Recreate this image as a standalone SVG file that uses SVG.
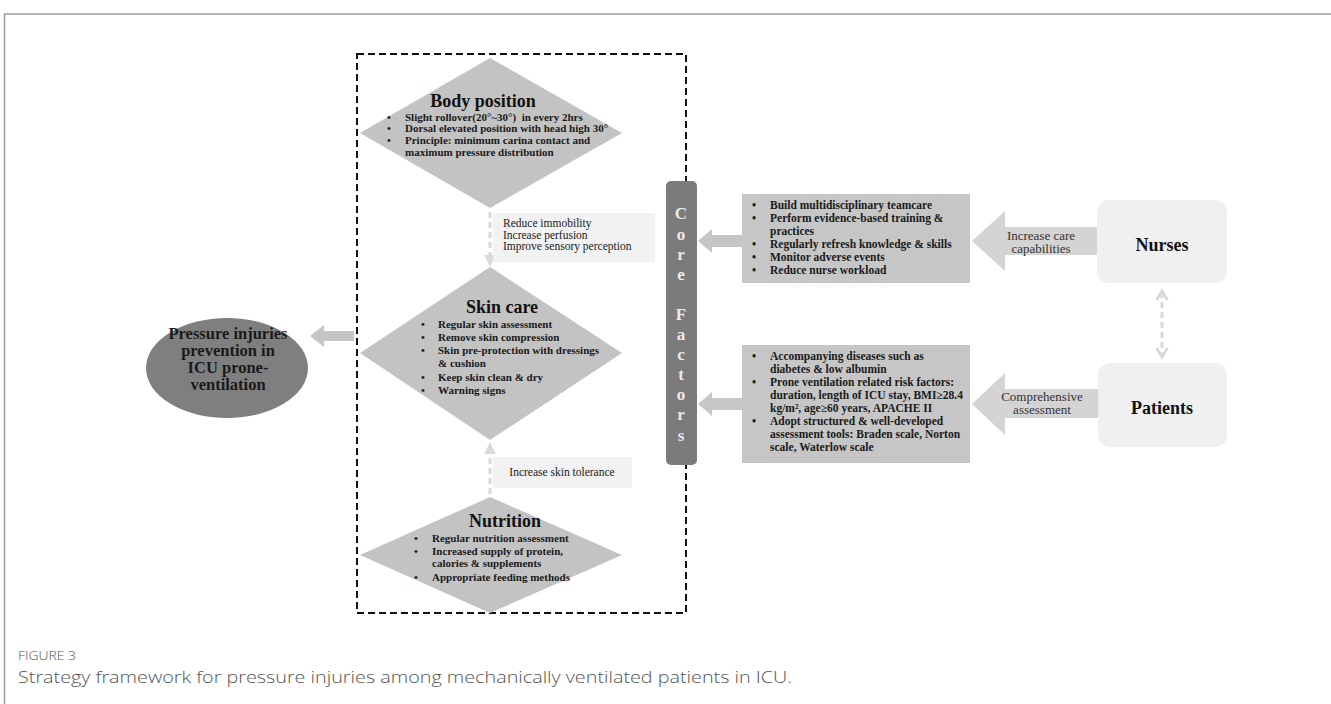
<svg xmlns="http://www.w3.org/2000/svg" width="1331" height="704" viewBox="0 0 1331 704">
<defs>
<style>
.frame{stroke:#9a9a9a;stroke-width:1.5;fill:none}
.dbox{fill:none;stroke:#111;stroke-width:2;stroke-dasharray:7 4}
.dia{fill:#c3c3c3}
.ttl{font-family:"Liberation Serif","Times New Roman",serif;font-weight:bold;font-size:18px;fill:#111;text-anchor:middle}
.bl{font-family:"Liberation Serif","Times New Roman",serif;font-weight:bold;font-size:11px;fill:#1a1a1a}
.bf{font-family:"Liberation Serif","Times New Roman",serif;font-weight:bold;font-size:11.5px;fill:#1a1a1a}
.lbl{font-family:"Liberation Serif","Times New Roman",serif;font-size:11.5px;fill:#1a1a1a}
.lbox{fill:#f2f2f2}
.fbox{fill:#c6c6c6}
.hbox{fill:#f0f0f0}
.htxt{font-family:"Liberation Serif","Times New Roman",serif;font-weight:bold;font-size:18px;fill:#111;text-anchor:middle}
.cf{font-family:"Liberation Serif","Times New Roman",serif;font-weight:bold;font-size:17px;fill:#ececec;text-anchor:middle}
.big{fill:#d4d4d4}
.sm{fill:#c6c6c6}
.dash{stroke:#d9d9d9;stroke-width:3;stroke-dasharray:6 4;fill:none}
.atxt{font-family:"Liberation Serif","Times New Roman",serif;font-size:13px;fill:#333;text-anchor:middle}
.eltxt{font-family:"Liberation Serif","Times New Roman",serif;font-weight:bold;font-size:16.5px;fill:#1a1a1a;text-anchor:middle}
.cap1{font-family:"Open Sans","Liberation Sans",sans-serif;font-weight:300;font-size:13px;fill:#555}
.cap2{font-family:"Open Sans","Liberation Sans",sans-serif;font-weight:300;font-size:16px;fill:#555}
</style>
<marker id="tri" viewBox="0 0 10 10" refX="6" refY="5" markerWidth="4" markerHeight="4" orient="auto-start-reverse">
<path d="M0,0 L10,5 L0,10 z" fill="#d9d9d9"/>
</marker>
<marker id="chev" viewBox="0 0 10 10" refX="7" refY="5" markerWidth="4.5" markerHeight="4.5" orient="auto-start-reverse">
<path d="M1,1 L8,5 L1,9" fill="none" stroke="#d9d9d9" stroke-width="2"/>
</marker>
</defs>
<rect width="1331" height="704" fill="#ffffff"/>
<g id="frame">
<line class="frame" x1="4" y1="14" x2="1331" y2="14"/>
<line class="frame" x1="4.5" y1="14" x2="4.5" y2="704"/>
</g>
<rect id="strategy-box" class="dbox" x="357" y="54" width="329" height="559"/>
<g id="connectors">
<polygon class="sm" points="310,336 324,325 324,331 354,331 354,341 324,341 324,347"/>
<polygon class="sm" points="698,241 712,229 712,235 742,235 742,247 712,247 712,253"/>
<polygon class="sm" points="698,404 712,392 712,398 742,398 742,410 712,410 712,416"/>
<polygon class="big" points="972,241 1005,211 1005,227 1097,227 1097,255 1005,255 1005,271"/>
<polygon class="big" points="972,404 1005,373 1005,389 1098,389 1098,418 1005,418 1005,435"/>
<line class="dash" x1="490" y1="212" x2="490" y2="262" marker-end="url(#tri)"/>
<line class="dash" x1="490" y1="494" x2="490" y2="447" marker-end="url(#tri)"/>
<line class="dash" x1="1162" y1="292" x2="1162" y2="356" marker-start="url(#chev)" marker-end="url(#chev)"/>
<text class="atxt" x="1041" y="240">Increase care</text>
<text class="atxt" x="1041" y="253">capabilities</text>
<text class="atxt" x="1042" y="401">Comprehensive</text>
<text class="atxt" x="1042" y="414">assessment</text>
</g>
<g id="label-body">
<rect class="lbox" x="493" y="213" width="162" height="49"/>
<text class="lbl" x="503" y="227">Reduce immobility</text>
<text class="lbl" x="503" y="238.5">Increase perfusion</text>
<text class="lbl" x="503" y="250">Improve sensory perception</text>
</g>
<g id="label-nutrition">
<rect class="lbox" x="493" y="457" width="139" height="31"/>
<text class="lbl" x="562" y="476" text-anchor="middle">Increase skin tolerance</text>
</g>
<g id="body-position">
<polygon class="dia" points="490,58 622,133 490,208 360,133"/>
<text class="ttl" x="483" y="107">Body position</text>
<g class="bl">
<text x="387" y="121">•</text><text x="405" y="121" xml:space="preserve">Slight rollover(20°~30°)  in every 2hrs</text>
<text x="387" y="132">•</text><text x="405" y="132">Dorsal elevated position with head high 30°</text>
<text x="387" y="144">•</text><text x="405" y="144">Principle: minimum carina contact and</text>
<text x="405" y="156">maximum pressure distribution</text>
</g>
</g>
<g id="skin-care">
<polygon class="dia" points="490,267 622,353 490,440 360,353"/>
<text class="ttl" x="502" y="313">Skin care</text>
<g class="bl">
<text x="421" y="328">•</text><text x="438" y="328">Regular skin assessment</text>
<text x="421" y="341">•</text><text x="438" y="341">Remove skin compression</text>
<text x="421" y="354">•</text><text x="438" y="354">Skin pre-protection with dressings</text>
<text x="438" y="367">&amp; cushion</text>
<text x="421" y="381">•</text><text x="438" y="381">Keep skin clean &amp; dry</text>
<text x="421" y="394">•</text><text x="438" y="394">Warning signs</text>
</g>
</g>
<g id="nutrition">
<polygon class="dia" points="490,497 622,555 490,613 360,555"/>
<text class="ttl" x="505" y="527">Nutrition</text>
<g class="bl">
<text x="414" y="542">•</text><text x="432" y="542">Regular nutrition assessment</text>
<text x="414" y="555">•</text><text x="432" y="555">Increased supply of protein,</text>
<text x="432" y="567">calories &amp; supplements</text>
<text x="414" y="581">•</text><text x="432" y="581">Appropriate feeding methods</text>
</g>
</g>
<g id="core-factors">
<rect x="666" y="181" width="31" height="284" rx="5" fill="#7b7b7b"/>
<g class="cf">
<text x="681" y="219">C</text>
<text x="681" y="240">o</text>
<text x="681" y="260">r</text>
<text x="681" y="280">e</text>
<text x="681" y="320">F</text>
<text x="681" y="340">a</text>
<text x="681" y="360">c</text>
<text x="681" y="380">t</text>
<text x="681" y="400">o</text>
<text x="681" y="420">r</text>
<text x="681" y="441">s</text>
</g>
</g>
<g id="nurse-factors">
<rect class="fbox" x="742" y="194" width="228" height="89"/>
<g class="bf">
<text x="752" y="209">•</text><text x="770" y="209">Build multidisciplinary teamcare</text>
<text x="752" y="222">•</text><text x="770" y="222">Perform evidence-based training &amp;</text>
<text x="770" y="235">practices</text>
<text x="752" y="248">•</text><text x="770" y="248">Regularly refresh knowledge &amp; skills</text>
<text x="752" y="261">•</text><text x="770" y="261">Monitor adverse events</text>
<text x="752" y="274">•</text><text x="770" y="274">Reduce nurse workload</text>
</g>
</g>
<g id="patient-factors">
<rect class="fbox" x="742" y="345" width="228" height="118"/>
<g class="bf">
<text x="752" y="360">•</text><text x="770" y="360">Accompanying diseases such as</text>
<text x="770" y="373">diabetes &amp; low albumin</text>
<text x="752" y="386">•</text><text x="770" y="386">Prone ventilation related risk factors:</text>
<text x="770" y="399">duration, length of ICU stay, BMI≥28.4</text>
<text x="770" y="412">kg/m², age≥60 years, APACHE II</text>
<text x="752" y="425">•</text><text x="770" y="425">Adopt structured &amp; well-developed</text>
<text x="770" y="438">assessment tools: Braden scale, Norton</text>
<text x="770" y="451">scale, Waterlow scale</text>
</g>
</g>
<g id="nurses">
<rect class="hbox" x="1097" y="200" width="130" height="83" rx="12"/>
<text class="htxt" x="1162" y="251">Nurses</text>
</g>
<g id="patients">
<rect class="hbox" x="1098" y="363" width="129" height="84" rx="12"/>
<text class="htxt" x="1162" y="414">Patients</text>
</g>
<g id="outcome">
<ellipse cx="227" cy="368" rx="81" ry="50" fill="#7f7f7f"/>
<text class="eltxt" x="228" y="339">Pressure injuries</text>
<text class="eltxt" x="228" y="356">prevention in</text>
<text class="eltxt" x="228" y="373">ICU prone-</text>
<text class="eltxt" x="228" y="390">ventilation</text>
</g>
<g id="caption">
<text class="cap1" x="18" y="660" textLength="58" lengthAdjust="spacingAndGlyphs">FIGURE 3</text>
<text class="cap2" x="18" y="683" textLength="774" lengthAdjust="spacingAndGlyphs">Strategy framework for pressure injuries among mechanically ventilated patients in ICU.</text>
</g>
</svg>
